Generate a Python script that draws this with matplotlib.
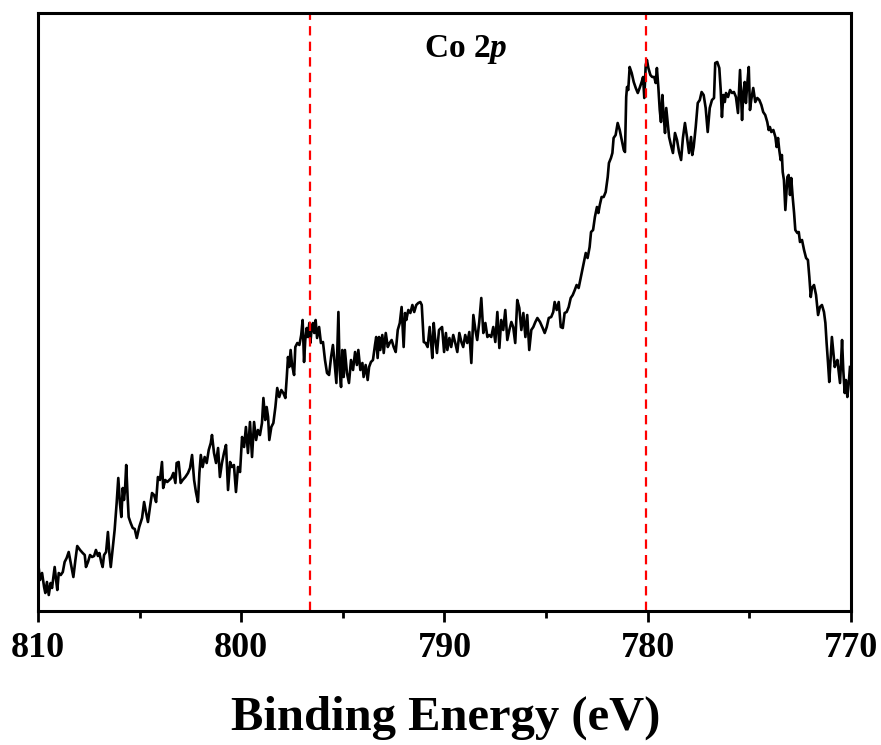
import matplotlib
matplotlib.use('Agg')
import matplotlib.pyplot as plt
from matplotlib.ticker import MultipleLocator

plt.rcParams['font.family'] = ['Liberation Serif', 'DejaVu Serif']
plt.rcParams['mathtext.fontset'] = 'custom'
plt.rcParams['mathtext.it'] = 'Liberation Serif:italic:bold'
plt.rcParams['mathtext.rm'] = 'Liberation Serif:bold'

# Binding energy (eV)
energy = [
    809.97, 809.90, 809.80, 809.70, 809.64, 809.56, 809.47, 809.38, 809.31, 809.25,
    809.18, 809.11, 809.05, 808.98, 808.88, 808.78, 808.69, 808.59, 808.49, 808.39,
    808.26, 808.16, 808.07, 807.93, 807.80, 807.70, 807.64, 807.54, 807.44, 807.34,
    807.24, 807.15, 807.05, 806.98, 806.89, 806.82, 806.75, 806.65, 806.56, 806.49,
    806.42, 806.32, 806.23, 806.13, 806.05, 805.97, 805.90, 805.83, 805.77, 805.72,
    805.66, 805.59, 805.54, 805.44, 805.34, 805.24, 805.14, 805.02, 804.88, 804.78,
    804.69, 804.59, 804.49, 804.39, 804.29, 804.19, 804.10, 804.00, 803.90, 803.84,
    803.74, 803.64, 803.54, 803.44, 803.34, 803.24,
    803.18, 803.08, 802.98, 802.88, 802.75, 802.62, 802.52, 802.42, 802.32, 802.23,
    802.13, 802.06, 801.99, 801.90, 801.80, 801.70, 801.60, 801.50, 801.44, 801.34,
    801.24, 801.14, 801.05, 800.95, 800.85, 800.75, 800.65, 800.55, 800.46, 800.36,
    800.26, 800.16, 800.06, 799.96, 799.86, 799.77, 799.67, 799.57, 799.47, 799.37,
    799.27, 799.18, 799.08, 798.98, 798.91, 798.82, 798.75, 798.68, 798.62, 798.52,
    798.42, 798.32, 798.23, 798.13, 798.03, 797.93, 797.83, 797.76, 797.70, 797.64,
    797.57, 797.50, 797.40, 797.34, 797.24, 797.14, 797.05, 796.98, 796.91, 796.85,
    796.78, 796.72, 796.65,
    796.60, 796.53, 796.47, 796.41, 796.34, 796.27, 796.17, 796.08, 795.98, 795.88,
    795.78, 795.68, 795.58, 795.49, 795.42, 795.32, 795.22, 795.16, 795.09, 795.03,
    794.96, 794.90, 794.80, 794.70, 794.60, 794.50, 794.40, 794.31, 794.24, 794.14,
    794.04, 793.98, 793.88, 793.78, 793.71, 793.62, 793.52, 793.42, 793.36, 793.29,
    793.22, 793.16, 793.06, 792.99, 792.89, 792.79, 792.70, 792.60, 792.50, 792.40,
    792.30, 792.20, 792.11, 792.01, 791.94, 791.88, 791.78, 791.68, 791.58, 791.49,
    791.39, 791.29, 791.19, 791.12, 791.02, 790.93, 790.83, 790.73, 790.66, 790.60,
    790.53, 790.47, 790.37, 790.27,
    790.12, 790.02, 789.93, 789.86, 789.76, 789.67, 789.57, 789.47, 789.37, 789.27,
    789.17, 789.08, 788.98, 788.88, 788.78, 788.68, 788.58, 788.48, 788.39, 788.29,
    788.19, 788.09, 787.99, 787.89, 787.80, 787.70, 787.60, 787.50, 787.40, 787.30,
    787.21, 787.11, 787.01, 786.91, 786.81, 786.71, 786.62, 786.52, 786.42, 786.32,
    786.22, 786.12, 786.02, 785.93, 785.83, 785.73, 785.63, 785.53, 785.43, 785.30,
    785.17, 785.07, 784.97, 784.87, 784.75, 784.65, 784.58, 784.48, 784.38, 784.28,
    784.18, 784.09, 783.99, 783.89, 783.79, 783.69, 783.59, 783.50, 783.40,
    783.35, 783.25, 783.15, 783.05, 782.96, 782.86, 782.79, 782.69, 782.60, 782.50,
    782.43, 782.36, 782.27, 782.17, 782.07, 781.97, 781.91, 781.81, 781.74, 781.68,
    781.58, 781.48, 781.38, 781.28, 781.18, 781.12, 781.06, 781.02, 780.96, 780.89,
    780.79, 780.69, 780.59, 780.49, 780.40, 780.30, 780.23, 780.17, 780.10, 780.04,
    779.97, 779.87, 779.78, 779.68, 779.61, 779.55, 779.48, 779.41, 779.35, 779.28,
    779.22, 779.15, 779.09, 779.02, 778.95, 778.86, 778.76, 778.66, 778.56, 778.46,
    778.36, 778.27, 778.17, 778.07, 777.97, 777.87, 777.81, 777.74, 777.64, 777.54,
    777.44, 777.35, 777.25, 777.15, 777.05, 776.95,
    776.84, 776.74, 776.68, 776.58, 776.48, 776.41, 776.35, 776.28, 776.21, 776.15,
    776.05, 775.95, 775.85, 775.76, 775.66, 775.56, 775.46, 775.36, 775.30, 775.23,
    775.17, 775.10, 775.03, 774.97, 774.91, 774.81, 774.71, 774.61, 774.51, 774.41,
    774.32, 774.22, 774.12, 774.05, 773.99, 773.92, 773.82, 773.72, 773.66, 773.59,
    773.53, 773.46, 773.40, 773.36, 773.30, 773.23, 773.13, 773.07, 773.00, 772.94,
    772.87, 772.80, 772.74, 772.64, 772.57, 772.51, 772.41, 772.31, 772.21, 772.12,
    772.05, 771.98, 771.92, 771.82, 771.72, 771.62, 771.53, 771.43, 771.33, 771.26,
    771.20, 771.13, 771.07, 771.00, 770.94, 770.87, 770.80, 770.74, 770.67, 770.60,
    770.54, 770.44, 770.38, 770.31, 770.25, 770.18, 770.11, 770.05,
]

# Intensity (a.u.)
intensity = [
    42, 29, 36, 22, 16, 27, 14, 26, 21, 31,
    42, 29, 19, 36, 34, 37, 47, 51, 57, 46,
    32, 49, 63, 59, 56, 54, 42, 47, 54, 52,
    53, 59, 53, 56, 47, 42, 54, 57, 77, 56,
    42, 62, 79, 106, 131, 106, 92, 121, 109, 119,
    144, 112, 92, 86, 81, 80, 71, 82, 91, 107,
    97, 87, 102, 116, 114, 107, 132, 129, 147, 121,
    129, 127, 129, 131, 136, 126,
    146, 147, 126, 129, 132, 136, 141, 154, 129, 117,
    107, 136, 154, 142, 152, 146, 159, 166, 174, 156,
    146, 161, 132, 146, 156, 164, 119, 147, 142, 144,
    117, 142, 137, 172, 162, 182, 156, 187, 152, 187,
    169, 179, 174, 186, 211, 189, 202, 192, 169, 182,
    186, 202, 221, 212, 219, 216, 211, 232, 252, 242,
    259, 244, 234, 262, 266, 264, 274, 289, 247, 269,
    281, 272, 286,
    266, 282, 286, 276, 289, 271, 282, 266, 267, 249,
    236, 234, 252, 264, 249, 226, 297, 239, 222, 259,
    232, 259, 236, 226, 249, 239, 257, 244, 259, 239,
    246, 232, 244, 229, 242, 247, 249, 264, 272, 251,
    272, 259, 274, 256, 276, 262, 266, 269, 262, 257,
    279, 286, 302, 262, 296, 289, 299, 296, 304, 297,
    304, 306, 307, 304, 267, 266, 262, 282, 267, 251,
    286, 272, 256, 279,
    282, 257, 276, 259, 271, 262, 274, 266, 257, 276,
    267, 262, 274, 266, 277, 246, 294, 279, 269, 287,
    311, 276, 286, 272, 274, 272, 282, 267, 297, 261,
    289, 279, 299, 269, 279, 287, 282, 266, 309, 301,
    279, 296, 272, 294, 259, 279, 282, 287, 291, 287,
    281, 276, 282, 291, 292, 297, 307, 299, 307, 282,
    281, 296, 297, 302, 311, 314, 319, 324, 321,
    326, 336, 346, 356, 351, 362, 377, 379, 392, 402,
    396, 404, 412, 412, 417, 432, 446, 451, 456, 471,
    474, 486, 479, 469, 459, 457, 512, 522, 519, 542,
    536, 527, 521, 516, 521, 527, 532, 511, 544, 549,
    541, 534, 532, 532, 526, 541, 522, 499, 487, 514,
    494, 476, 501, 487, 472, 464, 456, 476, 469, 457,
    449, 471, 486, 472, 456, 472, 454, 462, 482, 506,
    509, 517, 514, 501, 477, 501,
    509, 511, 546, 547, 541, 519, 492, 514, 507, 516,
    512, 519, 516, 517, 512, 496, 539, 489, 516, 527,
    506, 526, 542, 499, 509, 521, 507, 511, 509, 504,
    497, 494, 487, 479, 482, 477, 479, 472, 462, 471,
    459, 449, 454, 437, 429, 399, 432, 434, 414, 431,
    412, 396, 379, 376, 377, 367, 369, 359, 351, 349,
    332, 312, 321, 324, 314, 294, 302, 304, 297, 286,
    266, 246, 227, 252, 272, 257, 242, 246, 249, 237,
    226, 269, 239, 216, 229, 212, 226, 242,
]

peak_lines = [796.6, 780.1]
x_ticks = [810, 800, 790, 780, 770]
title = 'Co 2$p$'
x_label = 'Binding Energy (eV)'

n = min(len(energy), len(intensity))

fig = plt.figure(figsize=(8.81, 7.45), dpi=100)
ax = fig.add_axes([38 / 881, 1 - 611 / 745, 813 / 881, 598 / 745])
ax.plot(energy[:n], intensity[:n], color='black', lw=1.9)
for e in peak_lines:
    ax.axvline(e, color='red', lw=1.6, ls=(0, (4.2, 2.8)))
ax.set_xlim(810, 770)
ax.set_ylim(-2, 596)
ax.set_xticks(x_ticks)
ax.set_xticklabels([str(t) for t in x_ticks], fontweight='bold')
ax.xaxis.set_minor_locator(MultipleLocator(5))
ax.set_yticks([])
ax.tick_params(axis='x', which='major', direction='out', length=8, width=2,
               labelsize=26, pad=7)
ax.tick_params(axis='x', which='minor', direction='out', length=5, width=2)
for s in ax.spines.values():
    s.set_linewidth(2.2)
ax.text(788.94, 560, title, ha='center', va='center', fontsize=24,
        fontweight='bold')
fig.text(446 / 881, 1 - 730 / 745, x_label, ha='center', va='baseline',
         fontsize=35, fontweight='bold')
fig.savefig('out.png', dpi=100)
